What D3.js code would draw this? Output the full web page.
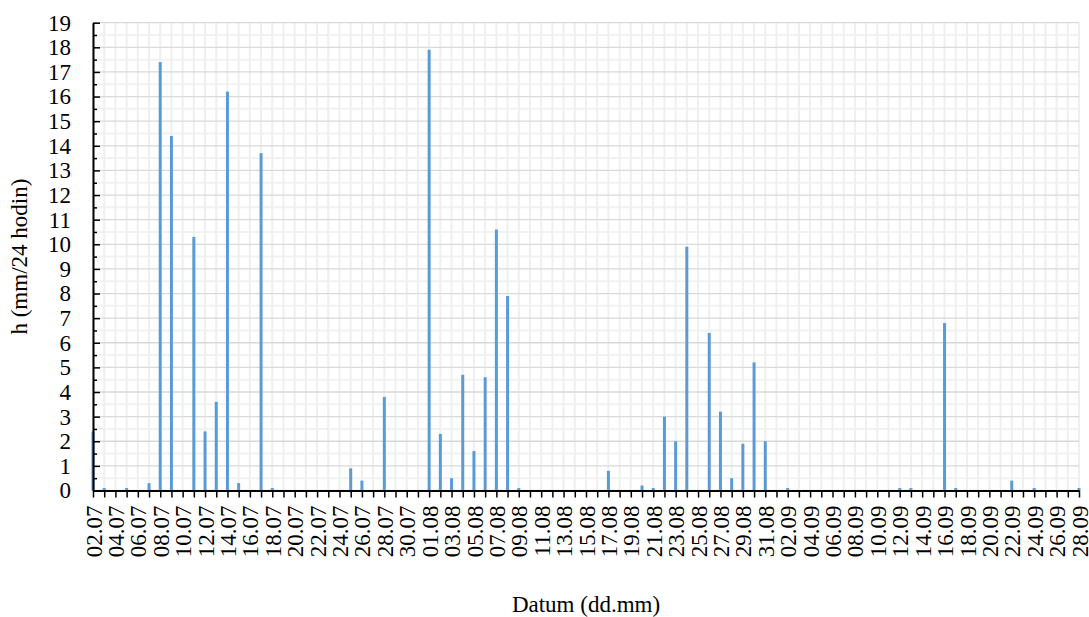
<!DOCTYPE html>
<html>
<head>
<meta charset="utf-8">
<script src="https://cdn.jsdelivr.net/npm/d3@7"></script>
<style>
body { margin: 0; background: #fff; }
svg text { font-family: "Liberation Serif", "Times New Roman", Tinos, "DejaVu Serif", serif; }
</style>
</head>
<body>
<script>
var w = 1089;
var h = 617;

// dates dd.mm
var julDates = ["02.07","03.07","04.07","05.07","06.07","07.07","08.07","09.07","10.07","11.07",
	"12.07","13.07","14.07","15.07","16.07","17.07","18.07","19.07","20.07","21.07",
	"22.07","23.07","24.07","25.07","26.07","27.07","28.07","29.07","30.07","31.07"];
var augDates = ["01.08","02.08","03.08","04.08","05.08","06.08","07.08","08.08","09.08","10.08",
	"11.08","12.08","13.08","14.08","15.08","16.08","17.08","18.08","19.08","20.08",
	"21.08","22.08","23.08","24.08","25.08","26.08","27.08","28.08","29.08","30.08","31.08"];
var sepDates = ["01.09","02.09","03.09","04.09","05.09","06.09","07.09","08.09","09.09","10.09",
	"11.09","12.09","13.09","14.09","15.09","16.09","17.09","18.09","19.09","20.09",
	"21.09","22.09","23.09","24.09","25.09","26.09","27.09","28.09"];

// h (mm/24 hodin)
var julValues = [2.4, 0.1, 0, 0.1, 0, 0.3, 17.4, 14.4, 0, 10.3,
	2.4, 3.6, 16.2, 0.3, 0, 13.7, 0.1, 0, 0, 0,
	0, 0, 0, 0.9, 0.4, 0, 3.8, 0, 0, 0];
var augValues = [17.9, 2.3, 0.5, 4.7, 1.6, 4.6, 10.6, 7.9, 0.1, 0,
	0, 0, 0, 0, 0, 0, 0.8, 0, 0, 0.2,
	0.1, 3.0, 2.0, 9.9, 0, 6.4, 3.2, 0.5, 1.9, 5.2, 2.0];
var sepValues = [0, 0.1, 0, 0, 0, 0, 0, 0, 0, 0,
	0, 0.1, 0.1, 0, 0, 6.8, 0.1, 0, 0, 0,
	0, 0.4, 0, 0.1, 0, 0, 0, 0.1];

var yTicks = d3.range(0, 20);
var yMinorTicks = d3.range(0.5, 19, 1);

var dates = julDates.concat(augDates, sepDates);
var values = julValues.concat(augValues, sepValues);
var data = dates.map(function(d, i) { return { date: d, value: values[i] }; });

var plotLeft = 93, plotRight = 1079, plotTop = 22.7, plotBottom = 490.5;
var fontSize = "23px";
var fontFamily = "'Liberation Serif', 'Times New Roman', Tinos, 'DejaVu Serif', serif";

var svg = d3.select("body")
	.append("svg")
	.attr("width", w)
	.attr("height", h);

var x = d3.scalePoint()
	.domain(dates)
	.range([plotLeft, plotRight]);

var y = d3.scaleLinear()
	.domain([0, 19])
	.range([plotBottom, plotTop]);

//gridlines
svg.append("g").selectAll("line")
	.data(yMinorTicks)
	.enter()
	.append("line")
	.attr("x1", plotLeft).attr("x2", plotRight)
	.attr("y1", function(d) { return y(d); })
	.attr("y2", function(d) { return y(d); })
	.attr("stroke", "#f2f2f2")
	.attr("stroke-width", 2);

svg.append("g").selectAll("line")
	.data(dates)
	.enter()
	.append("line")
	.attr("x1", function(d) { return x(d); })
	.attr("x2", function(d) { return x(d); })
	.attr("y1", plotTop).attr("y2", plotBottom)
	.attr("stroke", "#efefef")
	.attr("stroke-width", 2);

svg.append("g").selectAll("line")
	.data(yTicks)
	.enter()
	.append("line")
	.attr("x1", plotLeft).attr("x2", plotRight)
	.attr("y1", function(d) { return y(d); })
	.attr("y2", function(d) { return y(d); })
	.attr("stroke", "#d9d9d9")
	.attr("stroke-width", 1.3);

//bars
svg.append("g").selectAll("rect")
	.data(data.filter(function(d) { return d.value > 0; }))
	.enter()
	.append("rect")
	.attr("x", function(d) { return x(d.date) - 1.5; })
	.attr("y", function(d) { return y(d.value); })
	.attr("width", 3)
	.attr("height", function(d) { return plotBottom - y(d.value); })
	.attr("fill", "#5b9bd5");

//y axis
var yAxis = svg.append("g")
	.attr("transform", "translate(" + plotLeft + ",0)")
	.call(d3.axisLeft(y).tickValues(yTicks).tickSizeInner(-7).tickSizeOuter(0).tickPadding(22).tickFormat(d3.format("d")));
yAxis.attr("font-family", fontFamily).attr("font-size", fontSize);
yAxis.select(".domain").attr("stroke", "#000").attr("stroke-width", 2);
yAxis.selectAll(".tick line").attr("stroke", "#000").attr("stroke-width", 1.5);
yAxis.selectAll("text").attr("fill", "#000");

var yMinor = svg.append("g")
	.attr("transform", "translate(" + plotLeft + ",0)")
	.call(d3.axisLeft(y).tickValues(yMinorTicks).tickSizeInner(-4).tickSizeOuter(0).tickFormat(""));
yMinor.select(".domain").remove();
yMinor.selectAll(".tick line").attr("stroke", "#000").attr("stroke-width", 1.5);

//x axis
var xAxis = svg.append("g")
	.attr("transform", "translate(0," + plotBottom + ")")
	.call(d3.axisBottom(x).tickSizeInner(7).tickSizeOuter(0)
		.tickFormat(function(d, i) { return i % 2 === 0 ? d : ""; }));
xAxis.attr("font-family", fontFamily).attr("font-size", fontSize);
xAxis.select(".domain").attr("stroke", "#000").attr("stroke-width", 2);
xAxis.selectAll(".tick line").attr("stroke", "#000").attr("stroke-width", 1.5);
xAxis.selectAll("text")
	.attr("transform", "rotate(-90)")
	.attr("x", -15)
	.attr("y", 0)
	.attr("dy", "0.35em")
	.attr("text-anchor", "end")
	.attr("fill", "#000");

//titles
svg.append("text")
	.text("h (mm/24 hodin)")
	.attr("transform", "translate(27," + ((plotTop + plotBottom) / 2) + ") rotate(-90)")
	.attr("text-anchor", "middle")
	.attr("font-family", fontFamily)
	.attr("font-size", fontSize)
	.attr("fill", "#000");

svg.append("text")
	.text("Datum (dd.mm)")
	.attr("x", (plotLeft + plotRight) / 2)
	.attr("y", 612)
	.attr("text-anchor", "middle")
	.attr("font-family", fontFamily)
	.attr("font-size", fontSize)
	.attr("fill", "#000");
</script>
</body>
</html>
